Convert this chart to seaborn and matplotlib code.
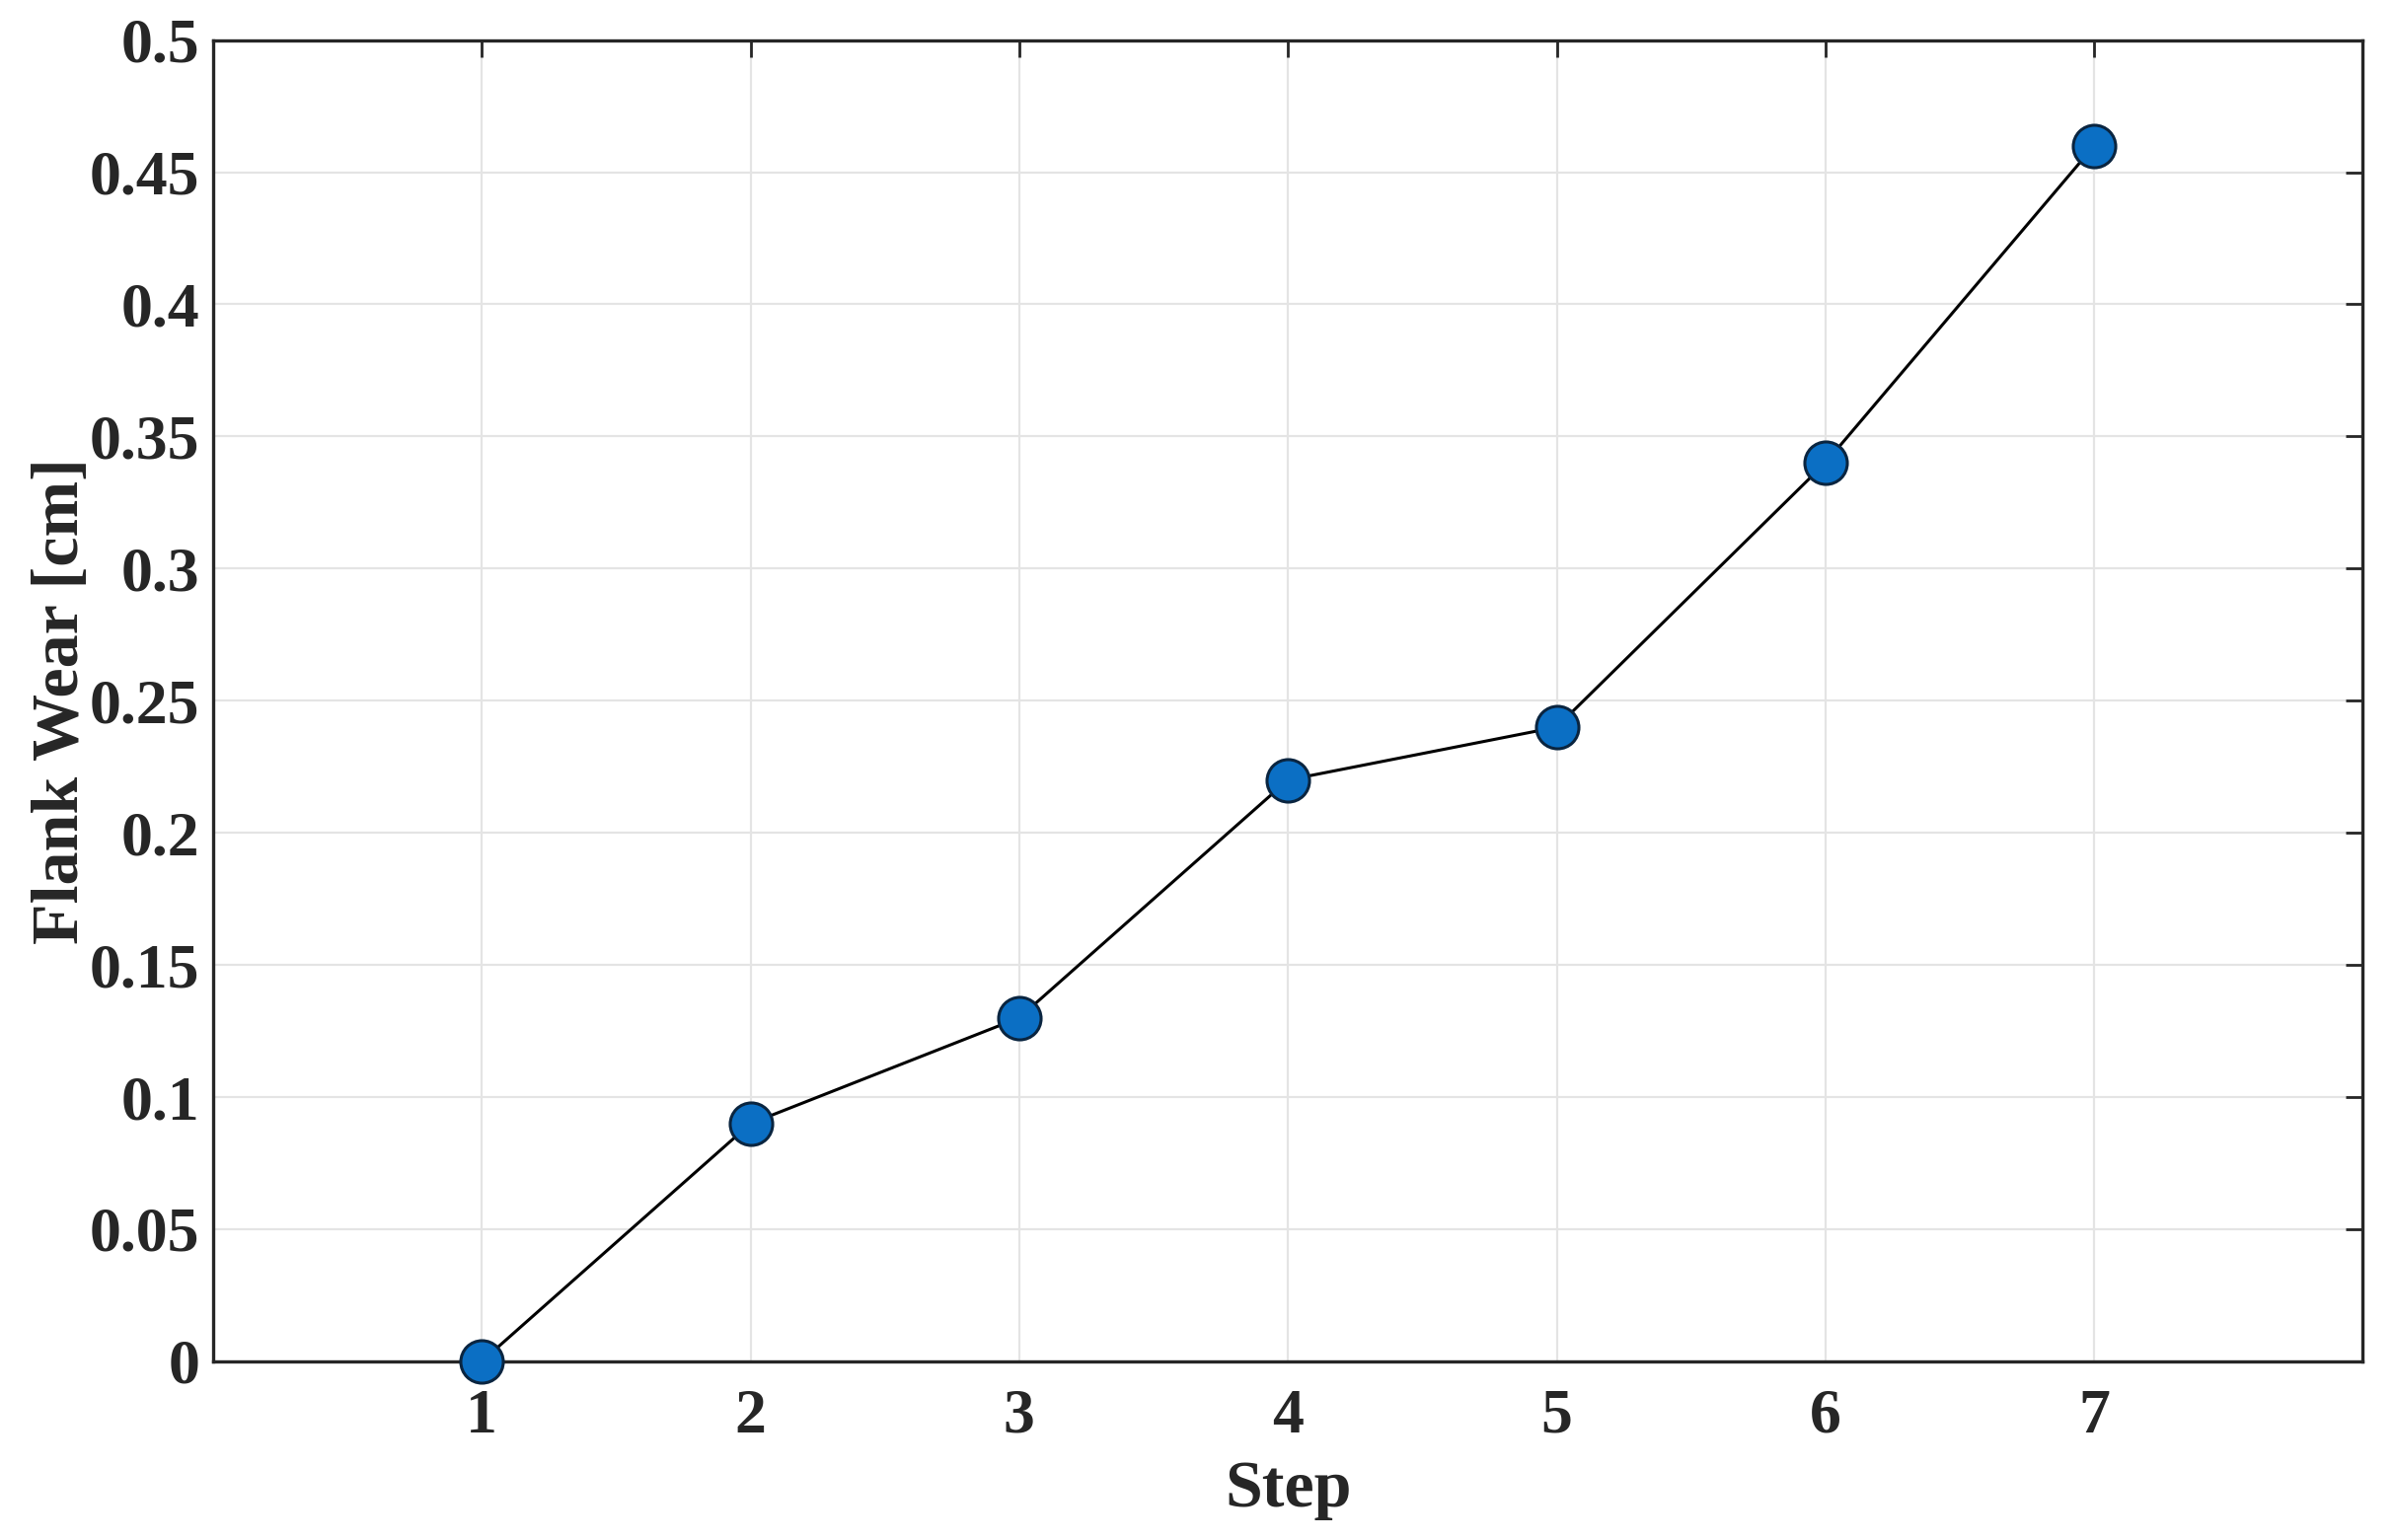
import numpy as np
import pandas as pd
import matplotlib
matplotlib.use('Agg')
import matplotlib.pyplot as plt
import seaborn as sns

# Flank wear per machining step
steps = [1, 2, 3, 4, 5, 6, 7]
flank_wear = [0.0, 0.09, 0.13, 0.22, 0.24, 0.34, 0.46]
ytick_labels = ['0', '0.05', '0.1', '0.15', '0.2', '0.25', '0.3',
                '0.35', '0.4', '0.45', '0.5']

df = pd.DataFrame({'Step': steps, 'Flank Wear [cm]': flank_wear})

sns.set_style('white')
plt.rcParams['font.family'] = ['Liberation Serif', 'DejaVu Serif']
plt.rcParams['font.weight'] = 'bold'

TICK_FS = 46
LABEL_FS = 49
MARKER_COLOR = '#0b6fc4'

fig = plt.figure(figsize=(24.26, 15.61), dpi=100)
ax = fig.add_axes([0.089, 0.116, 0.898, 0.858])

sns.lineplot(data=df, x='Step', y='Flank Wear [cm]', ax=ax,
             color='black', linewidth=2.2, marker='o', markersize=31,
             markerfacecolor=MARKER_COLOR, markeredgecolor='#0a2540',
             markeredgewidth=2.2, zorder=3, clip_on=False)

ax.set_xlim(0, 8)
ax.set_ylim(0, 0.5)
ax.set_xticks(steps)
ax.set_yticks(np.arange(0, 0.51, 0.05))
ax.set_yticklabels(ytick_labels)
ax.tick_params(axis='both', labelsize=TICK_FS, direction='in', length=12,
               width=2, colors='#262626', top=True, right=True)
ax.tick_params(axis='x', pad=20)
ax.tick_params(axis='y', pad=10)
for lab in ax.get_xticklabels() + ax.get_yticklabels():
    lab.set_fontweight('bold')

ax.set_xlabel('Step', fontsize=LABEL_FS, fontweight='bold', color='#262626', labelpad=10)
ax.set_ylabel('Flank Wear [cm]', fontsize=LABEL_FS, fontweight='bold', color='#262626', labelpad=-2)

ax.grid(True, color='#e4e4e4', linewidth=1.6)
ax.set_axisbelow(True)
for sp in ax.spines.values():
    sp.set_visible(True)
    sp.set_color('#262626')
    sp.set_linewidth(2.4)

plt.savefig('out.png', dpi=100)
plt.close()
